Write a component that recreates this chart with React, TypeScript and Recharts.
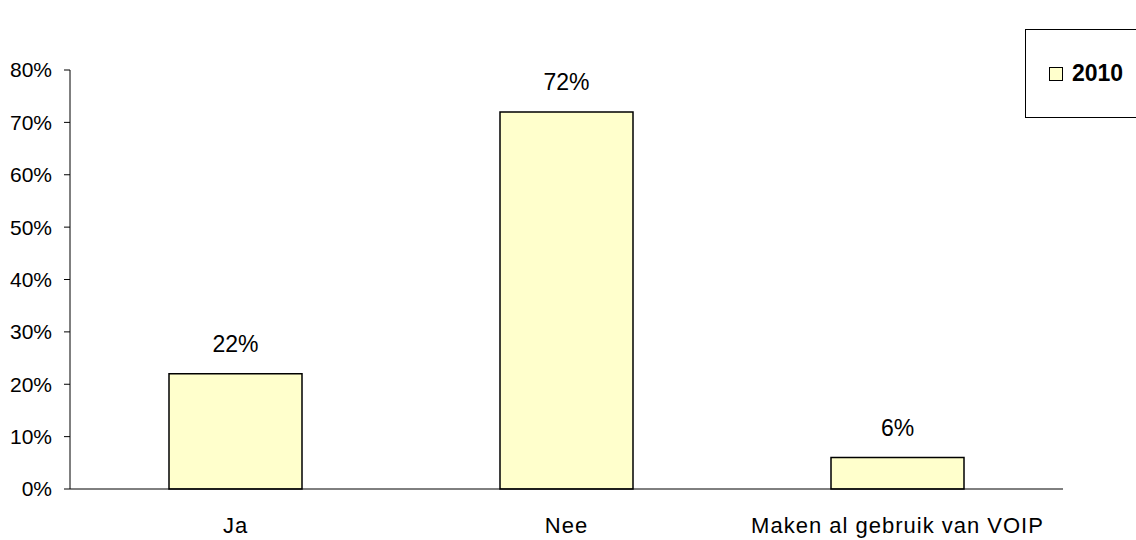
import React from 'react';
import { BarChart, Bar, XAxis, YAxis, LabelList } from 'recharts';

const categories = ['Ja', 'Nee', 'Maken al gebruik van VOIP'];
const values2010 = [0.22, 0.72, 0.06];
const seriesName = '2010';
const yTicks = [0, 0.1, 0.2, 0.3, 0.4, 0.5, 0.6, 0.7, 0.8];
const boundaryTicks = [0, 1, 2, 3];

const data = categories.map((name, i) => ({ name, pos: i + 0.5, v2010: values2010[i] }));

const font = '"Liberation Sans", Arial, sans-serif';
const pct = (v: number) => `${Math.round(v * 100)}%`;

// legend sits outside the plot, like the original's boxed legend
function LegendBox() {
    return (
        <div
            style={{
                position: 'absolute',
                left: 1025,
                top: 29,
                width: 130,
                height: 89,
                border: '1px solid #000',
                boxSizing: 'border-box',
                display: 'flex',
                alignItems: 'center',
                paddingLeft: 23,
                fontFamily: font,
                fontSize: 23,
                fontWeight: 'bold',
            }}
        >
            <span
                style={{
                    display: 'inline-block',
                    width: 12,
                    height: 12,
                    background: '#FFFFCC',
                    border: '1px solid #000',
                    marginRight: 9,
                }}
            />
            {seriesName}
        </div>
    );
}

export default function App() {
    return (
        <div style={{ position: 'absolute', left: 0, top: 0, width: 1136, height: 540, background: '#fff' }}>
            <BarChart
                width={1136}
                height={540}
                data={data}
                margin={{ top: 70, right: 73, bottom: 11, left: 0 }}
                style={{ fontFamily: font }}
            >
                <XAxis
                    xAxisId="b"
                    type="number"
                    dataKey="pos"
                    domain={[0, 3]}
                    ticks={boundaryTicks}
                    tick={false}
                    tickSize={6}
                    axisLine={false}
                    tickLine={{ stroke: '#000' }}
                    height={0}
                />
                <XAxis
                    xAxisId="c"
                    dataKey="name"
                    axisLine={{ stroke: '#000' }}
                    tickLine={false}
                    tick={{ fill: '#000', fontSize: 22, letterSpacing: 1 }}
                    tickMargin={22}
                    height={40}
                    interval={0}
                />
                <YAxis
                    domain={[0, 0.8]}
                    ticks={yTicks}
                    tickFormatter={pct}
                    axisLine={{ stroke: '#000' }}
                    tickLine={{ stroke: '#000' }}
                    tickSize={6}
                    tickMargin={12}
                    tick={{ fill: '#000', fontSize: 21 }}
                    width={70}
                    interval={0}
                />
                <Bar
                    xAxisId="c"
                    dataKey="v2010"
                    name={seriesName}
                    fill="#FFFFCC"
                    stroke="#000"
                    strokeWidth={1.5}
                    barSize={133}
                    isAnimationActive={false}
                >
                    <LabelList dataKey="v2010" position="top" offset={22} formatter={pct} fill="#000" fontSize={23} />
                </Bar>
            </BarChart>
            <LegendBox />
        </div>
    );
}
